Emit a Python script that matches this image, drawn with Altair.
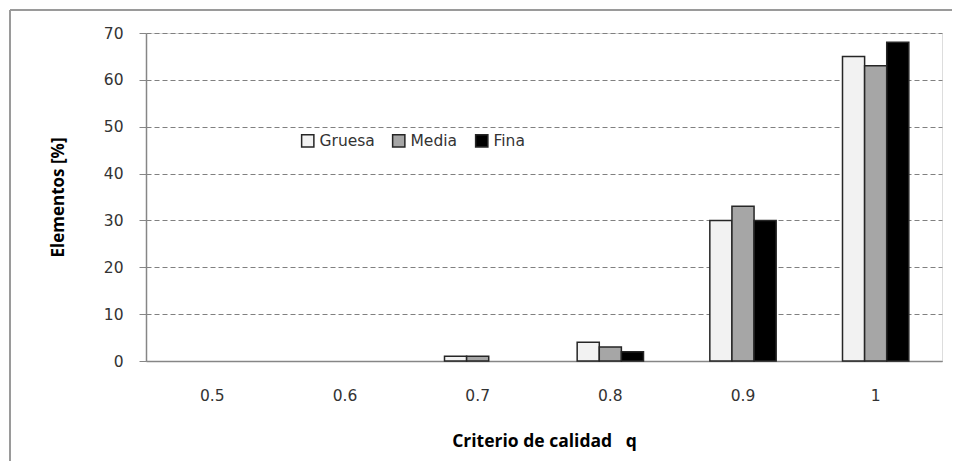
import altair as alt
import pandas as pd

categories = ["0.5", "0.6", "0.7", "0.8", "0.9", "1"]
series = ["Gruesa", "Media", "Fina"]
gruesa = [0, 0, 1, 4, 30, 65]
media = [0, 0, 1, 3, 33, 63]
fina = [0, 0, 0, 2, 30, 68]
colors = ["#f2f2f2", "#a6a6a6", "#000000"]

rows = []
for name, vals in zip(series, [gruesa, media, fina]):
    for c, v in zip(categories, vals):
        rows.append({"q": c, "serie": name, "value": v})
df = pd.DataFrame(rows)

W, H = 796, 328

bars = alt.Chart(df).transform_filter("datum.value > 0").mark_bar(
    stroke="#262626", strokeWidth=1.5
).encode(
    x=alt.X("q:N", sort=categories,
            scale=alt.Scale(domain=categories, paddingInner=0.5, paddingOuter=0.25),
            axis=alt.Axis(title="Criterio de calidad\u00a0\u00a0\u00a0q", labelAngle=0, tickSize=0,
                          labelPadding=27, labelFontSize=15.5, labelFont="DejaVu Sans",
                          labelColor="#333333", domainColor="#868686", domainWidth=1.5,
                          titleFont="Open Sans", titleFontWeight="bold", titleFontSize=17.5,
                          titleColor="#000000", titleY=80, titleBaseline="middle")),
    xOffset=alt.XOffset("serie:N", sort=series, scale=alt.Scale(domain=series, paddingInner=0, paddingOuter=0)),
    y=alt.Y("value:Q", scale=alt.Scale(domain=[0, 70]),
            axis=alt.Axis(title="Elementos [%]", values=list(range(0, 71, 10)), tickSize=7,
                          tickColor="#868686", domainColor="#868686", domainWidth=1.5,
                          labelPadding=16, labelFontSize=15.5, labelFont="DejaVu Sans",
                          labelColor="#333333",
                          grid=True, gridColor="#808080", gridDash=[5, 3], gridWidth=1,
                          titleFont="Open Sans", titleFontWeight="bold", titleFontSize=17,
                          titleColor="#000000", titleX=-88, titleY=H / 2, titleAngle=-90,
                          titleAlign="center", titleBaseline="middle")),
    fill=alt.Fill("serie:N", sort=series, scale=alt.Scale(domain=series, range=colors),
                  legend=alt.Legend(title=None, orient="none", legendX=154, legendY=100,
                                    direction="horizontal", symbolType="square", symbolSize=150,
                                    symbolStrokeColor="#262626", symbolStrokeWidth=1.5,
                                    labelFontSize=15.5, labelFont="DejaVu Sans",
                                    labelColor="#333333", labelOffset=4, columnPadding=14)),
)

frame_top = alt.Chart(pd.DataFrame({"a": [0]})).mark_rule(color="#9a9a9a", strokeWidth=2).encode(
    x=alt.value(-136), x2=alt.value(W + 10), y=alt.value(-23)
)
frame_left = alt.Chart(pd.DataFrame({"a": [0]})).mark_rule(color="#9a9a9a", strokeWidth=2).encode(
    x=alt.value(-136), y=alt.value(-23), y2=alt.value(H + 100)
)

chart = alt.layer(frame_top, frame_left, bars).properties(
    width=W, height=H,
    autosize=alt.AutoSizeParams(type="none"),
    padding={"left": 138, "top": 25, "right": 10, "bottom": 100},
).configure_view(stroke=None).configure(background="white")

chart.save("out.html", embed_options={"renderer": "svg", "actions": False})
